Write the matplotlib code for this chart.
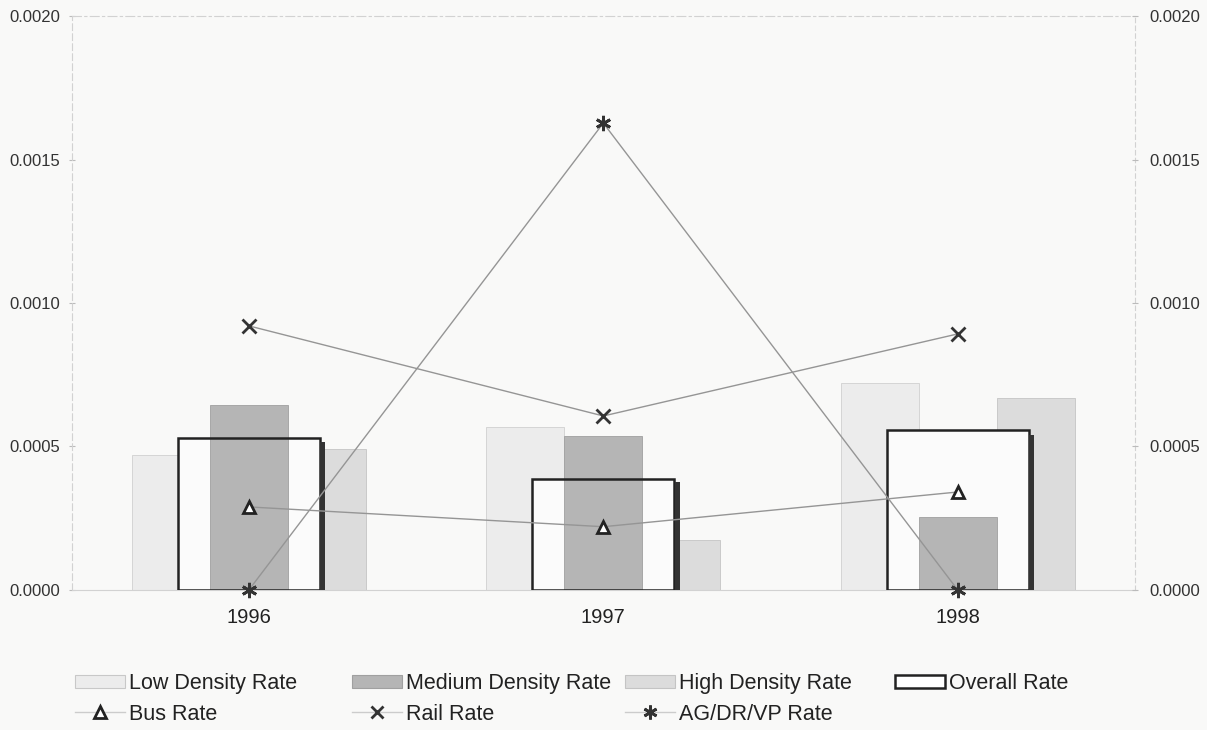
import matplotlib
matplotlib.use("Agg")
import matplotlib.pyplot as plt
import numpy as np
from matplotlib.patches import Patch
from matplotlib.lines import Line2D

plt.rcParams['font.family'] = ['Liberation Sans', 'DejaVu Sans']

years = ["1996", "1997", "1998"]
low_density = [0.00047, 0.000568, 0.00072]
medium_density = [0.000645, 0.000537, 0.000254]
high_density = [0.00049, 0.000174, 0.00067]
overall = [0.00053, 0.000387, 0.000557]
bus_rate = [0.000289, 0.00022, 0.000341]
rail_rate = [0.00092, 0.000606, 0.000892]
agdrvp_rate = [0.0, 0.001627, 0.0]
yticks = [0.0, 0.0005, 0.0010, 0.0015, 0.0020]

bg = '#f9f9f8'
c_low = '#ececec'
c_med = '#b5b5b5'
c_high = '#dcdcdc'
c_edge = '#222222'
c_line = '#959595'

fig = plt.figure(figsize=(12.07, 7.30), dpi=100, facecolor=bg)
ax = fig.add_axes([0.0595, 0.192, 0.8807, 0.786])
ax.set_facecolor(bg)

x = np.arange(len(years))
bw = 0.22
ow = 0.40

ax.bar(x - bw, low_density, bw, color=c_low, edgecolor='#d0d0d0', linewidth=0.6, zorder=1)
ax.bar(x + bw, high_density, bw, color=c_high, edgecolor='#c4c4c4', linewidth=0.6, zorder=1)
ax.bar(x, overall, ow, color='#fbfbfb', edgecolor='none', zorder=2)
ax.bar(x, medium_density, bw, color=c_med, edgecolor='#a0a0a0', linewidth=0.6, zorder=3)
ax.bar(x, overall, ow, color='none', edgecolor=c_edge, linewidth=1.8, zorder=4)
# shadow on right side of overall box
sh = np.array(overall) * 0.97
ax.bar(x + ow / 2 + 0.008, sh, 0.014, color='#333333', edgecolor='none', zorder=4)

ax.plot(x, bus_rate, color=c_line, lw=1.0, zorder=5,
        marker='^', markersize=9, markerfacecolor='white', markeredgecolor=c_edge, markeredgewidth=2)
ax.plot(x, rail_rate, color=c_line, lw=1.0, zorder=5,
        marker='x', markersize=10, markeredgecolor='#333333', markeredgewidth=2)
ax.plot(x, agdrvp_rate, color=c_line, lw=1.0, zorder=5,
        marker=(6, 2, 0), markersize=11, markeredgecolor='#333333', markeredgewidth=2, clip_on=False)

ax.set_xlim(-0.5, 2.5)
ax.set_ylim(0, 0.0020)
ax.set_yticks(yticks)
ax.set_yticklabels([f"{v:.4f}" for v in yticks], fontsize=12, color='#333333')
ax.set_xticks(x)
ax.set_xticklabels(years, fontsize=14.5, color='#222222')
ax.tick_params(axis='x', length=0, pad=13)
ax.tick_params(axis='y', direction='inout', length=5, color='#bbbbbb', pad=6)

for side in ['left', 'top', 'right', 'bottom']:
    ax.spines[side].set_color('#d2d2d2')
    ax.spines[side].set_linewidth(0.8)
ax.spines['left'].set_linestyle((0, (6, 3)))
ax.spines['top'].set_linestyle((0, (8, 3, 2, 3)))
ax.spines['right'].set_linestyle((0, (4, 3)))

ax2 = ax.twinx()
ax2.set_ylim(ax.get_ylim())
ax2.set_yticks(yticks)
ax2.set_yticklabels([f"{v:.4f}" for v in yticks], fontsize=12, color='#333333')
ax2.tick_params(axis='y', direction='inout', length=5, color='#bbbbbb', pad=8)
for s in ax2.spines.values():
    s.set_visible(False)

h_low = Patch(facecolor=c_low, edgecolor='#c8c8c8', linewidth=0.8)
h_med = Patch(facecolor=c_med, edgecolor='#a0a0a0', linewidth=0.8)
h_high = Patch(facecolor=c_high, edgecolor='#c4c4c4', linewidth=0.8)
h_all = Patch(facecolor='white', edgecolor=c_edge, linewidth=1.8)
h_bus = Line2D([], [], color='#cccccc', lw=1, marker='^', markersize=8,
               markerfacecolor='white', markeredgecolor=c_edge, markeredgewidth=2)
h_rail = Line2D([], [], color='#cccccc', lw=1, marker='x', markersize=9,
                markeredgecolor='#333333', markeredgewidth=2)
h_ag = Line2D([], [], color='#cccccc', lw=1, marker=(6, 2, 0), markersize=10,
              markeredgecolor='#333333', markeredgewidth=2)

columns = [
    ([h_low, h_bus], ["Low Density Rate", "Bus Rate"]),
    ([h_med, h_rail], ["Medium Density Rate", "Rail Rate"]),
    ([h_high, h_ag], ["High Density Rate", "AG/DR/VP Rate"]),
    ([h_all], ["Overall Rate"]),
]
col_x = [75, 352, 625, 895]
for (hs, ls), px in zip(columns, col_x):
    leg = fig.legend(hs, ls, loc='upper left', bbox_to_anchor=(px / 1207, 1 - 673 / 730),
                     frameon=False, fontsize=15.5, handlelength=2.3, handleheight=0.6,
                     handletextpad=0.2, labelspacing=0.45, borderaxespad=0, borderpad=0)
    for t in leg.get_texts():
        t.set_color('#222222')

fig.savefig("out.png", dpi=100, facecolor=bg)
